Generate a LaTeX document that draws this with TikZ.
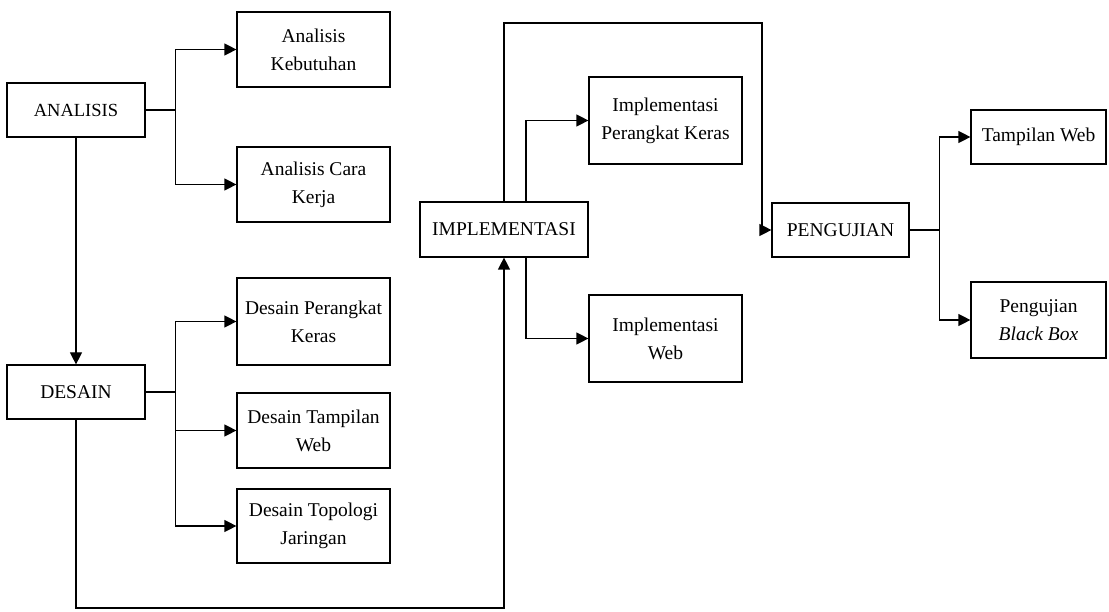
\documentclass[tikz,border=0pt]{standalone}
\usepackage{fontspec}
\setmainfont{Liberation Serif}
\usepackage{tikz}
\usetikzlibrary{arrows.meta}

\begin{document}
\begin{tikzpicture}
		[x=1pt,y=-1pt,
		 every node/.style={draw,line width=1.2pt,align=center,inner sep=2pt,
		   font=\fontsize{19.5}{28}\selectfont},
		 sub/.style={minimum width=153pt},
		 arr/.style={line width=1.2pt,-{Triangle[length=12pt,width=12pt]}}]
		\useasboundingbox (0,0) rectangle (1109,612);
		
		\node[minimum width=138pt,minimum height=54pt,font=\fontsize{18.5}{28}\selectfont] (An) at (76,110) {ANALISIS};
		\node[sub,minimum height=75pt] (AnKeb) at (313.5,49.5) {Analisis\\Kebutuhan};
		\node[sub,minimum height=75pt] (AnCara) at (313.5,184.5) {Analisis Cara\\Kerja};
		
		\node[minimum width=138pt,minimum height=54pt] (Des) at (76,392) {DESAIN};
		\node[sub,minimum height=87pt] (DesPK) at (313.5,321.5) {Desain Perangkat\\Keras};
		\node[sub,minimum height=75pt] (DesTW) at (313.5,430.5) {Desain Tampilan\\Web};
		\node[sub,minimum height=74pt] (DesTJ) at (313.5,526) {Desain Topologi\\Jaringan};
		
		\node[minimum width=168pt,minimum height=55pt] (Imp) at (504,229.5) {IMPLEMENTASI};
		\node[sub,minimum height=87pt] (ImpPK) at (665.5,120.5) {Implementasi\\Perangkat Keras};
		\node[sub,minimum height=87pt] (ImpW) at (665.5,338.5) {Implementasi\\Web};
		
		\node[minimum width=137pt,minimum height=54pt] (Uji) at (840.5,230) {PENGUJIAN};
		\node[minimum width=135pt,minimum height=54pt] (UjiTW) at (1038.5,137) {Tampilan Web};
		\node[minimum width=135pt,minimum height=76pt] (UjiBB) at (1038.5,320) {Pengujian\\\textit{Black Box}};
		
		\coordinate (p1) at (76,608);
		\coordinate (p2) at (762,23);
		
		\draw[arr] (An.east) --++(30,0) |- (AnKeb.west);
		\draw[arr] (An.east) --++(30,0) |- (AnCara.west);
		\draw[arr] (An.south) -- (Des.north);
		
		\draw[arr] (Des.east) --++(30,0) |- (DesPK.west);
		\draw[arr] (Des.east) --++(30,0) |- (DesTW.west);
		\draw[arr] (Des.east) --++(30,0) |- (DesTJ.west);
		\draw[arr] (Des.south) -- (p1) -| (Imp.south);
		
		\draw[arr] ([xshift=22pt]Imp.north) |- (ImpPK.west);
		\draw[arr] ([xshift=22pt]Imp.south) |- (ImpW.west);
		\draw[arr] (Imp.north) |- (p2) |- (Uji.west);
		
		\draw[arr] (Uji.east) --++(30,0) |- (UjiTW.west);
		\draw[arr] (Uji.east) --++(30,0) |- (UjiBB.west);
		
		\end{tikzpicture}
\end{document}
